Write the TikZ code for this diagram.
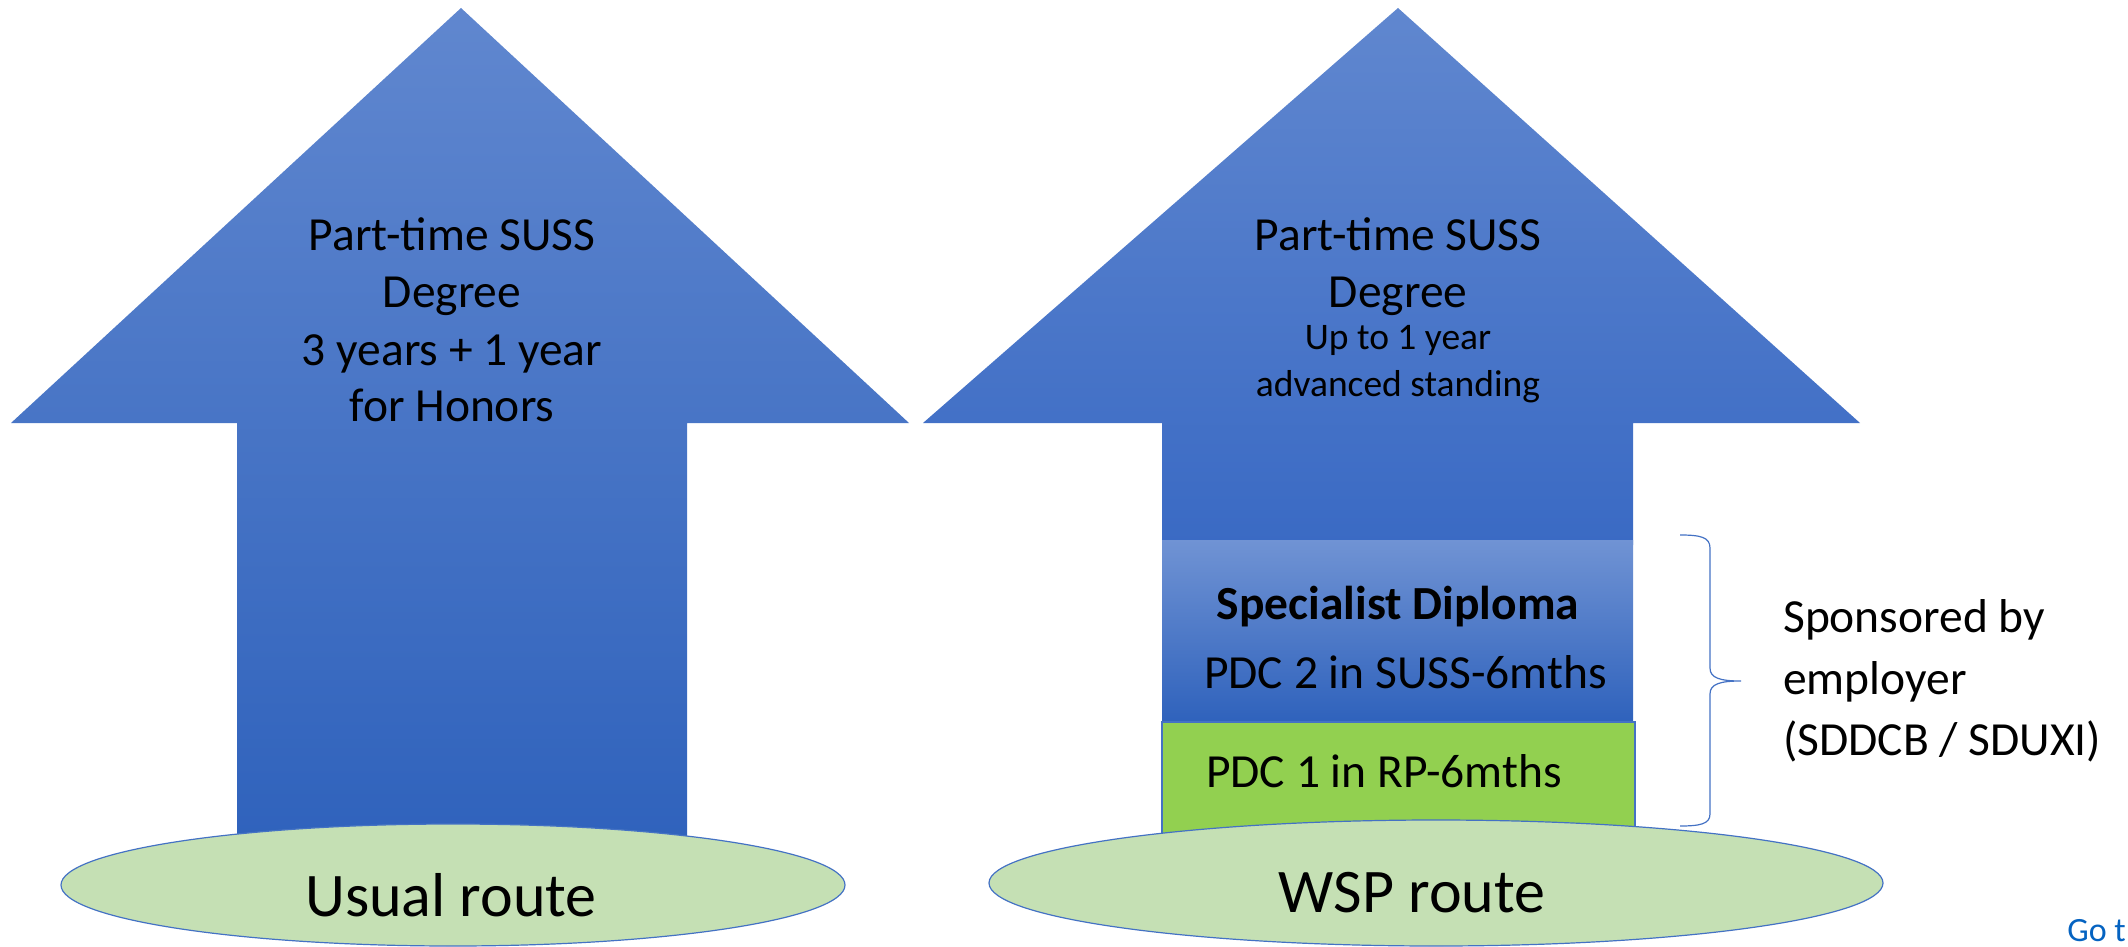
\documentclass[tikz,border=0pt]{standalone}
\usepackage{fontspec}
\setmainfont{Carlito}
\usetikzlibrary{shapes.geometric}
\definecolor{arrowtop}{HTML}{6087CF}
\definecolor{arrowbot}{HTML}{2F62BC}
\definecolor{arrowmid}{HTML}{3A6AC4}
\definecolor{olblue}{HTML}{4472C4}
\definecolor{pdcgreen}{HTML}{92D050}
\definecolor{ellgreen}{HTML}{C5E0B4}
\definecolor{linkblue}{HTML}{0563C1}
\tikzset{
  bigtxt/.style={font=\fontsize{47.5}{57}\selectfont, inner sep=0pt, anchor=base},
  smalltxt/.style={font=\fontsize{37.5}{45}\selectfont, inner sep=0pt, anchor=base},
  routetxt/.style={font=\fontsize{62}{74}\selectfont, inner sep=0pt, anchor=base},
  routeell/.style={draw=olblue, line width=1.2pt, fill=ellgreen},
  thinline/.style={draw=olblue, line width=1.2pt}
}
\begin{document}
\begin{tikzpicture}[x=1pt,y=-1pt]
\useasboundingbox (0,0) rectangle (2128,947);
% left arrow
\path[top color=arrowtop, bottom color=arrowbot]
  (461,8) -- (909,423) -- (687,423) -- (687,850) -- (237,850) -- (237,423) -- (11,423) -- cycle;
% right arrow
\path[top color=arrowtop, bottom color=arrowmid]
  (1398,8) -- (1860,423) -- (1633,423) -- (1633,545) -- (1162,545) -- (1162,423) -- (923,423) -- cycle;
% specialist box
\path[top color=arrowtop!90!white, bottom color=arrowbot] (1162,540) rectangle (1633,722);
% green box
\path[fill=pdcgreen, thinline] (1162,722) rectangle (1635,840);
% ellipses
\node[routeell, ellipse, minimum width=784pt, minimum height=122pt, inner sep=0pt] (usual) at (453,885) {};
\node[routeell, ellipse, minimum width=894pt, minimum height=126pt, inner sep=0pt] (wsp) at (1436,883) {};
\node[routetxt] (usualtxt) at (451,916) {Usual route};
\node[routetxt] (wsptxt) at (1412,912) {WSP route};
% left arrow text
\node[bigtxt] (l1) at (452,250) {Part-time SUSS};
\node[bigtxt] (l2) at (452,307) {Degree};
\node[bigtxt] (l3) at (452,365) {3 years + 1 year};
\node[bigtxt] (l4) at (452,421) {for Honors};
% right arrow text
\node[bigtxt] (r1) at (1398,250) {Part-time SUSS};
\node[bigtxt] (r2) at (1398,307) {Degree};
\node[smalltxt] (r3) at (1398,349) {Up to 1 year};
\node[smalltxt] (r4) at (1398,396) {advanced standing};
% boxes text
\node[bigtxt, font=\fontsize{47.5}{57}\selectfont\bfseries] (sd) at (1398,619) {Specialist Diploma};
\node[bigtxt, anchor=base west] (pdc2) at (1204,688) {PDC 2 in SUSS-6mths};
\node[bigtxt, anchor=base west] (pdc1) at (1206,787) {PDC 1 in RP-6mths};
% brace
\draw[thinline] (1680,535) .. controls (1700,535) and (1710,537) .. (1710,548) -- (1710,668)
  .. controls (1710,678) and (1720,681) .. (1741,681)
  .. controls (1720,681) and (1710,684) .. (1710,694) -- (1710,814)
  .. controls (1710,824) and (1700,826) .. (1680,826);
\node[bigtxt, anchor=base west] (sp1) at (1783,632) {Sponsored by};
\node[bigtxt, anchor=base west] (sp2) at (1783,694) {employer};
\node[bigtxt, anchor=base west] (sp3) at (1783,755) {(SDDCB / SDUXI)};
% link text
\node[font=\fontsize{34}{40}\selectfont, text=linkblue, inner sep=0pt, anchor=base east] (goto) at (2126,941) {Go t};
\end{tikzpicture}
\end{document}
